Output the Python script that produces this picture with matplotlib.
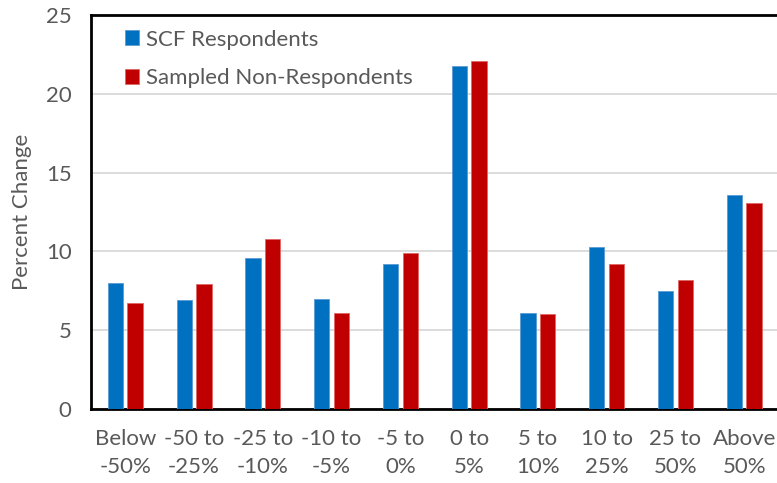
import numpy as np
import matplotlib.pyplot as plt

categories = ["Below\n-50%", "-50 to\n-25%", "-25 to\n-10%", "-10 to\n-5%", "-5 to\n0%",
              "0 to\n5%", "5 to\n10%", "10 to\n25%", "25 to\n50%", "Above\n50%"]
respondents = [8.0, 6.9, 9.6, 7.0, 9.2, 21.8, 6.1, 10.3, 7.5, 13.6]
non_respondents = [6.7, 7.9, 10.8, 6.1, 9.9, 22.1, 6.0, 9.2, 8.2, 13.1]

plt.rcParams["font.family"] = ["Lato", "DejaVu Sans"]
gray = "#595959"

fig = plt.figure(figsize=(7.77, 4.83), dpi=100)
ax = fig.add_axes([0.117, 0.154, 0.885, 0.814])

x = np.arange(len(categories))
w = 0.223
ax.bar(x - 0.143, respondents, w, color="#0070C0", edgecolor="#5B9BD5",
       linewidth=0.6, label="SCF Respondents", zorder=3)
ax.bar(x + 0.143, non_respondents, w, color="#C00000", edgecolor="#E06666",
       linewidth=0.6, label="Sampled Non-Respondents", zorder=3)

ax.set_xlim(-0.5, 9.5)
ax.set_ylim(0, 25)
ax.set_yticks([0, 5, 10, 15, 20, 25])
ax.set_xticks(x)
ax.set_xticklabels(categories, fontsize=16, color=gray, linespacing=1.45)
ax.tick_params(axis="y", labelsize=16, labelcolor=gray, length=0, pad=14)
ax.tick_params(axis="x", length=0, pad=15)
ax.yaxis.grid(True, color="#D9D9D9", linewidth=1.3, zorder=0)
ax.set_axisbelow(True)

for side in ["left", "top", "bottom"]:
    ax.spines[side].set_linewidth(2)
    ax.spines[side].set_color("black")
ax.spines["right"].set_visible(False)

ax.set_ylabel("Percent Change", fontsize=16, color=gray, labelpad=10)

ax.legend(loc="upper left", bbox_to_anchor=(0.02, 1.015), frameon=False,
          fontsize=16, labelcolor=gray, handlelength=0.65, handleheight=0.65,
          handletextpad=0.3, labelspacing=0.85)

fig.savefig("out.png", dpi=100)
